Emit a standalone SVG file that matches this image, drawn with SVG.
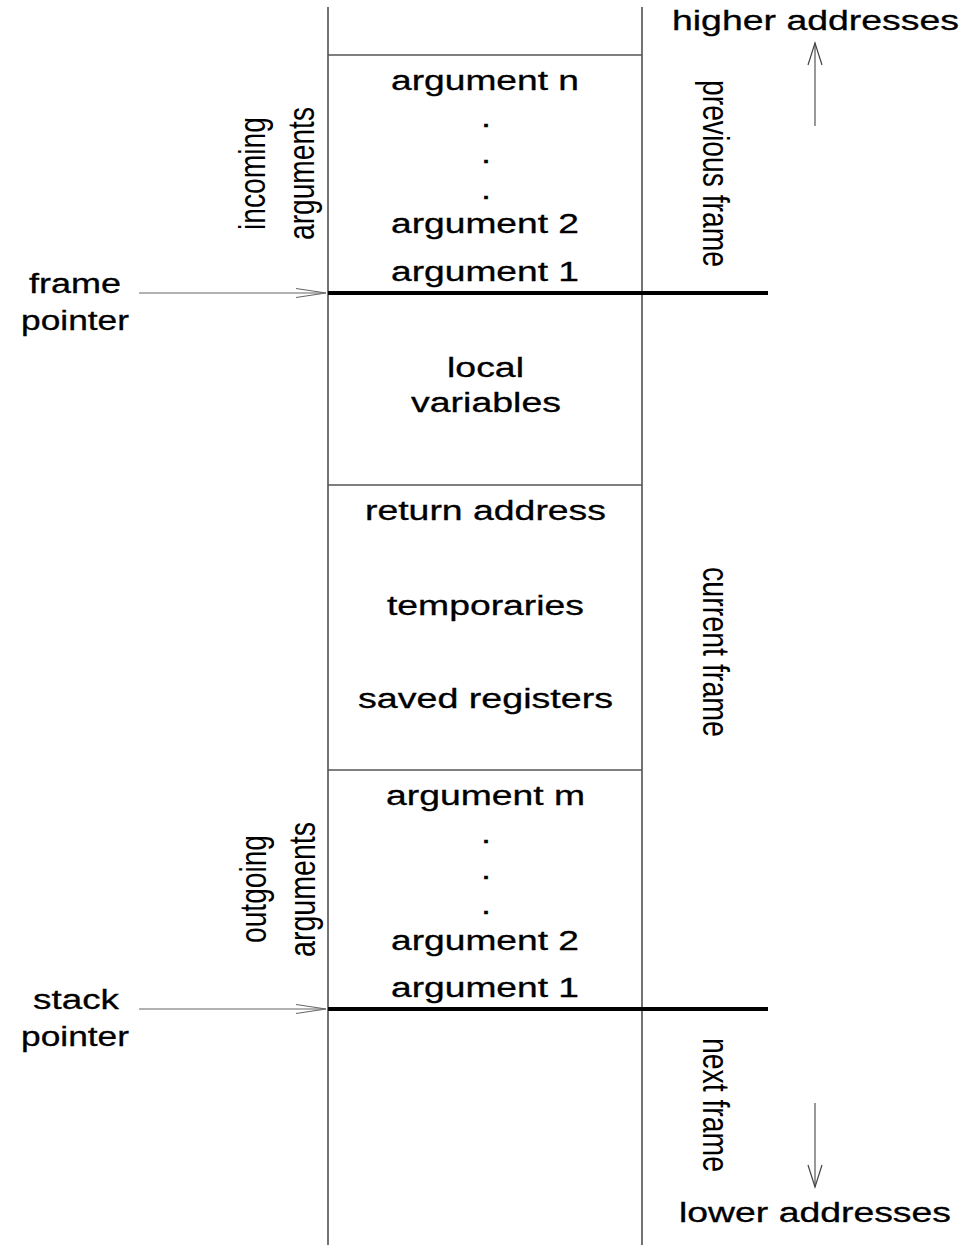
<svg xmlns="http://www.w3.org/2000/svg" width="977" height="1245" viewBox="0 0 977 1245">
<style>
  .t { font-family: "Liberation Sans", Arial, sans-serif; font-size: 27px; fill: #000; stroke: #000; stroke-width: 0.3; }
  .r { font-family: "Liberation Sans", Arial, sans-serif; font-size: 27px; fill: #000; }
  .frame { stroke: #444; stroke-width: 1.5; fill: none; }
  .sep { stroke: #555; stroke-width: 1.5; fill: none; }
  .thick { stroke: #000; stroke-width: 4; fill: none; }
  .arr { stroke: #666; stroke-width: 1.2; fill: none; }
  .arrv { stroke: #555; stroke-width: 1.2; fill: none; }
</style>
<defs>
  <marker id="chevH" markerUnits="userSpaceOnUse" markerWidth="34" markerHeight="12" refX="30" refY="6" orient="auto" overflow="visible">
    <path d="M0,1.5 L30,6 L0,10.5" fill="none" stroke="#666" stroke-width="1.2"/>
  </marker>
  <marker id="chevV" markerUnits="userSpaceOnUse" markerWidth="26" markerHeight="16" refX="22" refY="8" orient="auto" overflow="visible">
    <path d="M0,1 L22,8 L0,15" fill="none" stroke="#444" stroke-width="1.2"/>
  </marker>
</defs>
<rect width="977" height="1245" fill="#fff"/>

<g id="stack-frame">
  <line class="frame" x1="328" y1="7" x2="328" y2="1245"/>
  <line class="frame" x1="642" y1="7" x2="642" y2="1245"/>
  <line class="sep" x1="328" y1="55" x2="642" y2="55"/>
  <line class="sep" x1="328" y1="485" x2="642" y2="485"/>
  <line class="sep" x1="328" y1="770" x2="642" y2="770"/>
  <line class="thick" x1="328" y1="293" x2="768" y2="293"/>
  <line class="thick" x1="328" y1="1009" x2="768" y2="1009"/>
</g>

<g id="incoming-args">
  <text class="t" x="391" y="90" textLength="188" lengthAdjust="spacingAndGlyphs">argument n</text>
  <text class="t" x="481" y="127" textLength="10" lengthAdjust="spacingAndGlyphs">.</text>
  <text class="t" x="481" y="163" textLength="10" lengthAdjust="spacingAndGlyphs">.</text>
  <text class="t" x="481" y="199" textLength="10" lengthAdjust="spacingAndGlyphs">.</text>
  <text class="t" x="391" y="233" textLength="188" lengthAdjust="spacingAndGlyphs">argument 2</text>
  <text class="t" x="391" y="281" textLength="188" lengthAdjust="spacingAndGlyphs">argument 1</text>
</g>

<g id="local-vars">
  <text class="t" x="447" y="377" textLength="77" lengthAdjust="spacingAndGlyphs">local</text>
  <text class="t" x="411" y="412" textLength="150" lengthAdjust="spacingAndGlyphs">variables</text>
</g>

<g id="saved-area">
  <text class="t" x="365" y="520" textLength="241" lengthAdjust="spacingAndGlyphs">return address</text>
  <text class="t" x="387" y="615" textLength="197" lengthAdjust="spacingAndGlyphs">temporaries</text>
  <text class="t" x="358" y="708" textLength="255" lengthAdjust="spacingAndGlyphs">saved registers</text>
</g>

<g id="outgoing-args">
  <text class="t" x="386" y="805" textLength="199" lengthAdjust="spacingAndGlyphs">argument m</text>
  <text class="t" x="481" y="843" textLength="10" lengthAdjust="spacingAndGlyphs">.</text>
  <text class="t" x="481" y="879" textLength="10" lengthAdjust="spacingAndGlyphs">.</text>
  <text class="t" x="481" y="914" textLength="10" lengthAdjust="spacingAndGlyphs">.</text>
  <text class="t" x="391" y="950" textLength="188" lengthAdjust="spacingAndGlyphs">argument 2</text>
  <text class="t" x="391" y="997" textLength="188" lengthAdjust="spacingAndGlyphs">argument 1</text>
</g>

<g id="side-labels">
  <text class="r" transform="translate(265,230) scale(1.4,1) rotate(-90)" textLength="113" lengthAdjust="spacingAndGlyphs">incoming</text>
  <text class="r" transform="translate(314,240) scale(1.4,1) rotate(-90)" textLength="133" lengthAdjust="spacingAndGlyphs">arguments</text>
  <text class="r" transform="translate(266,943) scale(1.4,1) rotate(-90)" textLength="108" lengthAdjust="spacingAndGlyphs">outgoing</text>
  <text class="r" transform="translate(315,957) scale(1.4,1) rotate(-90)" textLength="135" lengthAdjust="spacingAndGlyphs">arguments</text>
  <text class="r" transform="translate(703,80) scale(1.4,1) rotate(90)" textLength="187" lengthAdjust="spacingAndGlyphs">previous frame</text>
  <text class="r" transform="translate(703,567) scale(1.4,1) rotate(90)" textLength="170" lengthAdjust="spacingAndGlyphs">current frame</text>
  <text class="r" transform="translate(703,1038) scale(1.4,1) rotate(90)" textLength="134" lengthAdjust="spacingAndGlyphs">next frame</text>
</g>

<g id="frame-pointer">
  <text class="t" x="29" y="293" textLength="92" lengthAdjust="spacingAndGlyphs">frame</text>
  <text class="t" x="21" y="330" textLength="108" lengthAdjust="spacingAndGlyphs">pointer</text>
</g>

<g id="stack-pointer">
  <text class="t" x="33" y="1009" textLength="86" lengthAdjust="spacingAndGlyphs">stack</text>
  <text class="t" x="21" y="1046" textLength="108" lengthAdjust="spacingAndGlyphs">pointer</text>
</g>

<g id="address-labels">
  <text class="t" x="672" y="30" textLength="287" lengthAdjust="spacingAndGlyphs">higher addresses</text>
  <text class="t" x="679" y="1222" textLength="272" lengthAdjust="spacingAndGlyphs">lower addresses</text>
</g>

<g id="connectors">
  <line class="arr" x1="139" y1="293" x2="326" y2="293" marker-end="url(#chevH)"/>
  <line class="arr" x1="139" y1="1009" x2="326" y2="1009" marker-end="url(#chevH)"/>
  <line class="arrv" x1="815" y1="126" x2="815" y2="43" marker-end="url(#chevV)"/>
  <line class="arrv" x1="815" y1="1103" x2="815" y2="1187" marker-end="url(#chevV)"/>
</g>
</svg>
